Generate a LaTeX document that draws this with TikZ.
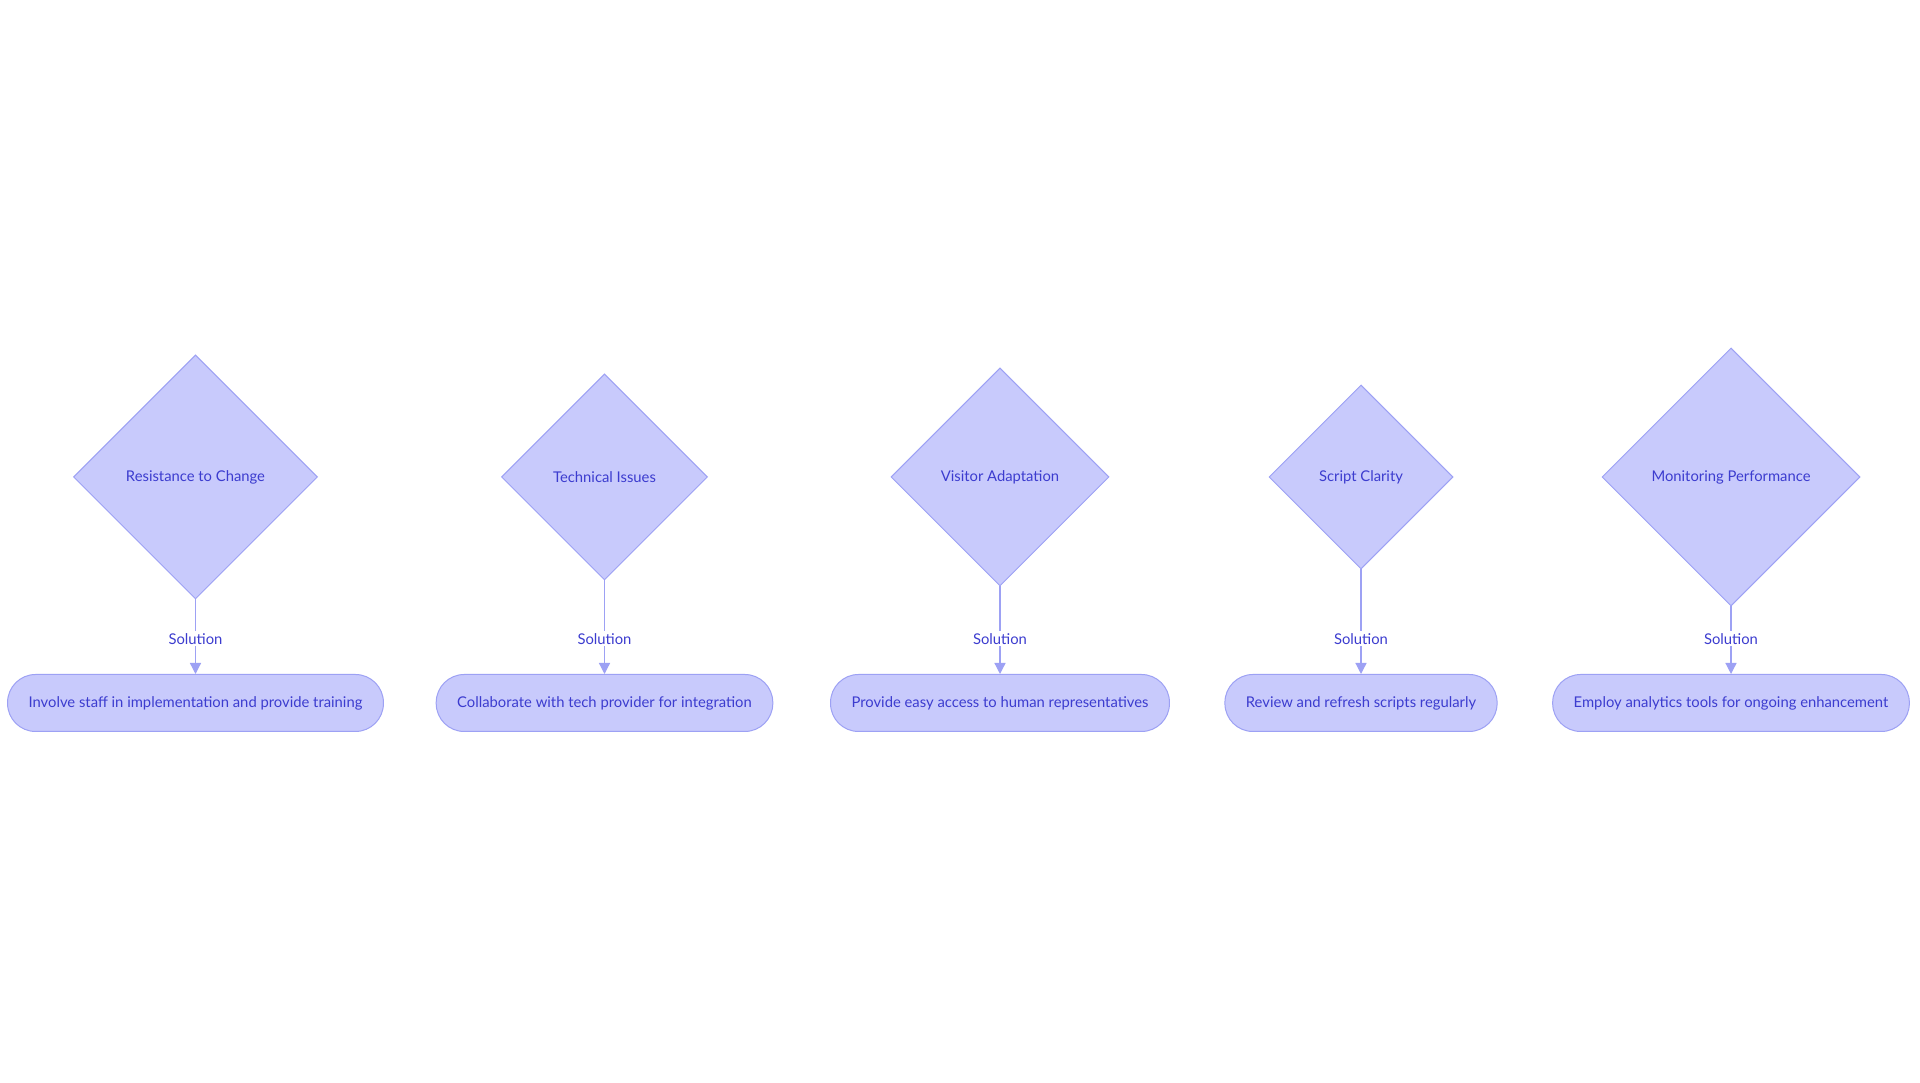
\documentclass[tikz,border=0pt]{standalone}
\usepackage{fontspec}
\setmainfont{Lato}
\usetikzlibrary{shapes.geometric,arrows.meta}

\definecolor{boxfill}{HTML}{C8CAFC}
\definecolor{boxline}{HTML}{9DA1F4}
\definecolor{boxtext}{HTML}{3C3CCF}

\tikzset{
  issue/.style={diamond, draw=boxline, fill=boxfill, text=boxtext, line width=1pt,
    inner sep=0pt, font=\fontsize{14.8}{17}\selectfont},
  fix/.style={rectangle, rounded corners=28pt, draw=boxline, fill=boxfill, text=boxtext,
    line width=1pt, minimum height=57pt, inner xsep=21pt, font=\fontsize{14.8}{17}\selectfont},
  solarrow/.style={-{Triangle[length=11pt,width=11pt]}, draw=boxline, line width=1.3pt},
  sollabel/.style={fill=white, text=boxtext, inner sep=2pt, font=\fontsize{14.8}{17}\selectfont}
}

\begin{document}
\begin{tikzpicture}[x=1pt, y=1pt]
  \useasboundingbox[fill=white] (0,0) rectangle (1920,1083);

  % Problems (diamonds)
  \node[issue, minimum size=244pt] (change)  at (195.5,606) {Resistance to Change};
  \node[issue, minimum size=206pt] (tech)    at (604.5,606) {Technical Issues};
  \node[issue, minimum size=218pt] (visitor) at (1000,606)  {Visitor Adaptation};
  \node[issue, minimum size=184pt] (script)  at (1361,606)  {Script Clarity};
  \node[issue, minimum size=258pt] (monitor) at (1731,606)  {Monitoring Performance};

  % Solutions (pills)
  \node[fix] (staff)     at (195.5,380) {Involve staff in implementation and provide training};
  \node[fix] (provider)  at (604.5,380) {Collaborate with tech provider for integration};
  \node[fix] (human)     at (1000,380)  {Provide easy access to human representatives};
  \node[fix] (refresh)   at (1361,380)  {Review and refresh scripts regularly};
  \node[fix] (analytics) at (1731,380)  {Employ analytics tools for ongoing enhancement};

  % Links, labels sit at the same height above each pill
  \draw[solarrow] (change)  -- (staff);
  \draw[solarrow] (tech)    -- (provider);
  \draw[solarrow] (visitor) -- (human);
  \draw[solarrow] (script)  -- (refresh);
  \draw[solarrow] (monitor) -- (analytics);
  \node[sollabel] (sol1) at ([yshift=35pt]staff.north)     {Solution};
  \node[sollabel] (sol2) at ([yshift=35pt]provider.north)  {Solution};
  \node[sollabel] (sol3) at ([yshift=35pt]human.north)     {Solution};
  \node[sollabel] (sol4) at ([yshift=35pt]refresh.north)   {Solution};
  \node[sollabel] (sol5) at ([yshift=35pt]analytics.north) {Solution};
\end{tikzpicture}
\end{document}
